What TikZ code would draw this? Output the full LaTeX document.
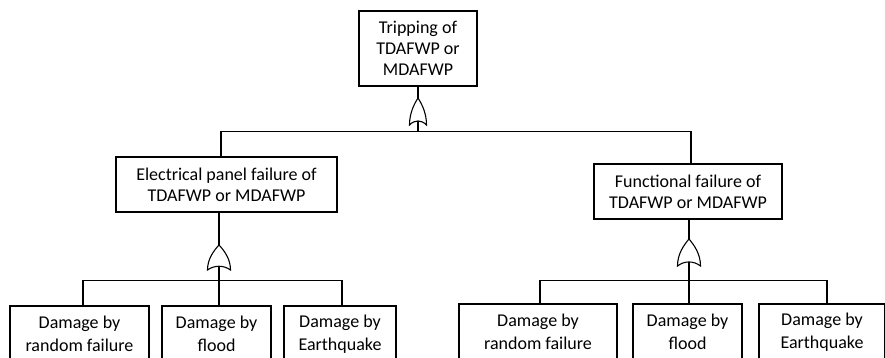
\documentclass[tikz,border=0pt]{standalone}
\usepackage{fontspec}
\setmainfont{Carlito}
\newcommand\orgate[4]{% cx, y of tips, width, height
  \draw[fill=white] (#1-#3/2,#2) .. controls (#1-#3/2,#2-0.45*#4) and (#1-0.22*#3,#2-0.78*#4) .. (#1,#2-#4)
    .. controls (#1+0.22*#3,#2-0.78*#4) and (#1+#3/2,#2-0.45*#4) .. (#1+#3/2,#2)
    .. controls (#1+0.2*#3,#2-0.2*#4) and (#1-0.2*#3,#2-0.2*#4) .. cycle;}
\begin{document}
\begin{tikzpicture}[x=1pt,y=-1pt,line width=1.1pt,
  box/.style={draw, rectangle, inner sep=0pt, align=center, fill=white,
    font=\fontsize{18}{21}\selectfont},
  leaf/.style={box, minimum height=56pt, font=\fontsize{18}{23}\selectfont}]
\useasboundingbox (0,0) rectangle (885,358);
\clip (0,0) rectangle (885,358);

% top event
\node[box, minimum width=118pt, minimum height=75pt] (top) at (418,48.5) {Tripping of\\TDAFWP or\\MDAFWP};
% intermediate events
\node[box, minimum width=221pt, minimum height=55pt] (lmid) at (226.5,184.5) {Electrical panel failure of\\TDAFWP or MDAFWP};
\node[box, minimum width=188pt, minimum height=55pt] (rmid) at (688,191.5) {Functional failure of\\TDAFWP or MDAFWP};
% basic events
\node[leaf, minimum width=139pt] (b1) at (79.5,334) {Damage by\\random failure};
\node[leaf, minimum width=109pt] (b2) at (216.5,334) {Damage by\\flood};
\node[leaf, minimum width=112pt] (b3) at (340,334) {Damage by\\Earthquake};
\node[leaf, minimum width=158pt] (b4) at (538,332) {Damage by\\random failure};
\node[leaf, minimum width=109pt] (b5) at (687.5,332) {Damage by\\flood};
\node[leaf, minimum width=126pt] (b6) at (822,332) {Damage by\\Earthquake};

% gates
\coordinate (gTt) at (418,98);  \coordinate (gTb) at (418,121);  \coordinate (busT) at (418,132);
\coordinate (gLt) at (219,245); \coordinate (gLb) at (219,266);
\coordinate (gRt) at (689,239); \coordinate (gRb) at (689,262);

\draw (top.south) -- (gTt);
\draw (gTb) -- (busT);
\orgate{418}{125}{17}{27}
\draw ([xshift=-5.5pt]lmid.north) -- ++(0,-25) -| ([xshift=3pt]rmid.north);

\draw ([xshift=-7.5pt]lmid.south) -- (gLt);
\orgate{219}{270}{23}{25}
\draw (gLb) -- ([xshift=2.5pt]b2.north);
\draw ([xshift=3.5pt]b1.north) -- ++(0,-25) -| ([xshift=2pt]b3.north);

\draw ([xshift=1pt]rmid.south) -- (gRt);
\orgate{689}{266}{23}{27}
\draw (gRb) -- ([xshift=1.5pt]b5.north);
\draw ([xshift=2pt]b4.north) -- ++(0,-23) -| ([xshift=5pt]b6.north);
\end{tikzpicture}
\end{document}
